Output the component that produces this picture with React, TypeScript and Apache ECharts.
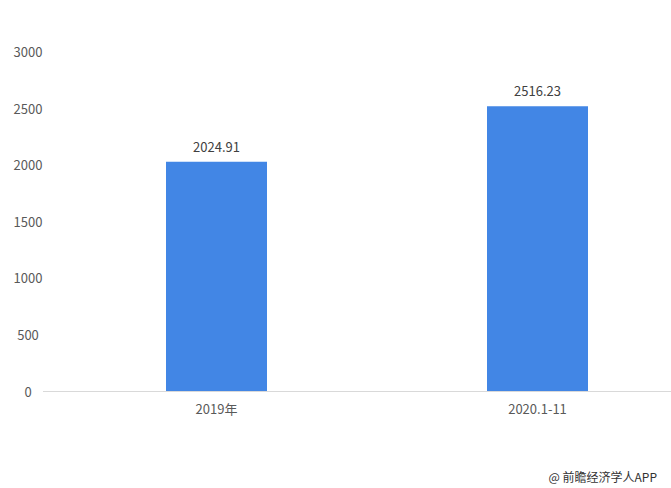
import React, { useEffect, useRef } from "react";
import * as echarts from "echarts";

const categories = ["2019年", "2020.1-11"];
const values = [2024.91, 2516.23];
const yTicks = [0, 500, 1000, 1500, 2000, 2500, 3000];

const FONT = "'Microsoft YaHei', 'Noto Sans CJK SC', sans-serif";

export default function App() {
  const ref = useRef<HTMLDivElement>(null);
  useEffect(() => {
    if (!ref.current) return;
    const chart = echarts.init(ref.current, undefined, { renderer: "svg" });
    chart.setOption({
      animation: false,
      backgroundColor: "#ffffff",
      grid: { left: 56, top: 51.5, bottom: 97, right: 0, containLabel: false },
      xAxis: {
        type: "category",
        data: categories,
        axisLine: { show: true, lineStyle: { color: "#d9d9d9", width: 1 } },
        axisTick: { show: false },
        axisLabel: { color: "#595959", fontSize: 13, fontFamily: FONT, margin: 11 },
      },
      yAxis: {
        type: "value",
        min: yTicks[0],
        max: yTicks[yTicks.length - 1],
        interval: 500,
        splitLine: { show: false },
        axisLine: { show: false },
        axisTick: { show: false },
        axisLabel: {
          color: "#595959",
          fontSize: 13,
          fontFamily: FONT,
          align: "center",
          margin: 28,
          formatter: (v: number) => String(v),
        },
      },
      series: [
        {
          type: "bar",
          data: values,
          barWidth: 101,
          itemStyle: { color: "#4286e5" },
          label: {
            show: true,
            position: "top",
            distance: 9,
            color: "#404040",
            fontSize: 13,
            fontFamily: FONT,
            formatter: (p: any) => p.value.toFixed(2),
          },
        },
      ],
      graphic: [
        {
          type: "line",
          shape: { x1: 43, y1: 391.5, x2: 57, y2: 391.5 },
          style: { stroke: "#d9d9d9", lineWidth: 1 },
        },
        {
          type: "text",
          right: 41,
          top: 470,
          style: { text: "@ 前瞻经济学人APP", fill: "#333333", fontSize: 12, fontFamily: FONT },
        },
      ],
    });
    return () => chart.dispose();
  }, []);
  return (
    <div style={{ width: 671, height: 488, position: "absolute", left: 0, top: 0, overflow: "hidden", background: "#fff" }}>
      <div ref={ref} style={{ width: 698, height: 488 }} />
    </div>
  );
}
